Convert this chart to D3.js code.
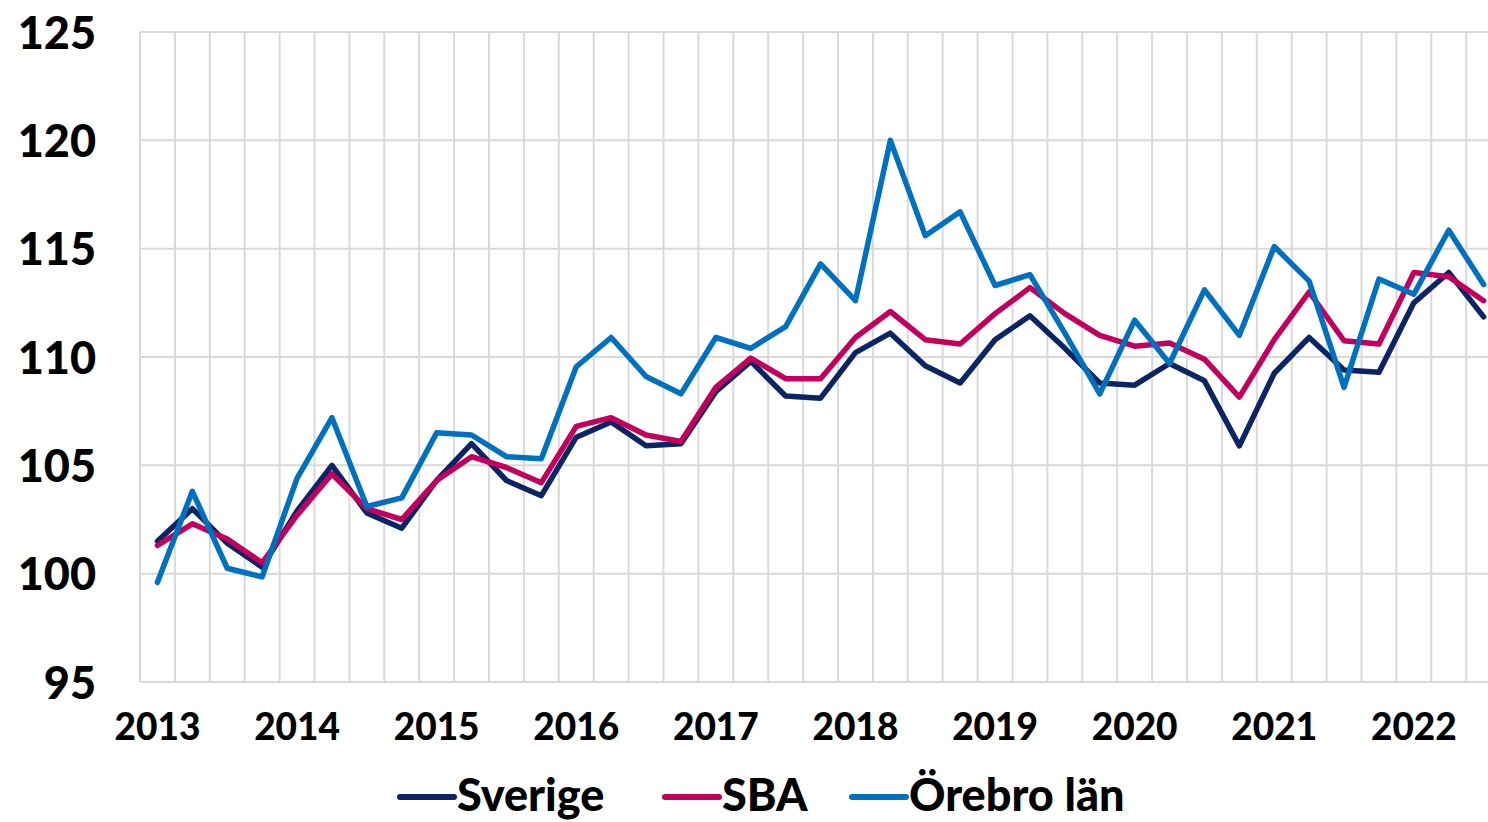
<!DOCTYPE html>
<html>
<head>
<meta charset="utf-8">
<script src="https://cdn.jsdelivr.net/npm/d3@7"></script>
<style>
  body { margin: 0; background: #fff; }
  svg { display: block; font-family: "Lato", "DejaVu Sans", sans-serif; }
</style>
</head>
<body>
<div class="chart"></div>
<script>
// quarterly index, 2013 Q1 .. 2022 Q3
const years = ["2013", "2014", "2015", "2016", "2017", "2018", "2019", "2020", "2021", "2022"]
const quarters = years.flatMap(y => ["1", "2", "3", "4"].map(q => y + "Q" + q)).slice(0, 39)

const sverige = [101.5, 103.0, 101.4, 100.3, 102.9, 105.0, 102.8, 102.1, 104.3, 106.0,
    104.3, 103.6, 106.3, 107.0, 105.9, 106.0, 108.4, 109.8, 108.2, 108.1,
    110.2, 111.1, 109.6, 108.8, 110.8, 111.9, 110.4, 108.8, 108.7, 109.7,
    108.9, 105.9, 109.25, 110.9, 109.4, 109.3, 112.5, 113.9, 111.85]
const sba = [101.3, 102.3, 101.6, 100.5, 102.7, 104.6, 103.0, 102.5, 104.3, 105.4,
    104.9, 104.2, 106.8, 107.2, 106.4, 106.1, 108.6, 109.95, 109.0, 109.0,
    110.9, 112.1, 110.8, 110.6, 112.0, 113.2, 112.0, 111.0, 110.5, 110.65,
    109.9, 108.15, 110.8, 113.0, 110.75, 110.6, 113.9, 113.7, 112.6]
const orebro = [99.6, 103.8, 100.25, 99.85, 104.4, 107.2, 103.1, 103.5, 106.5, 106.4,
    105.4, 105.3, 109.55, 110.9, 109.1, 108.3, 110.9, 110.4, 111.4, 114.3,
    112.6, 120.0, 115.6, 116.7, 113.3, 113.8, 111.1, 108.3, 111.7, 109.7,
    113.1, 111.0, 115.1, 113.5, 108.6, 113.6, 112.9, 115.85, 113.35]

const yTicks = [95, 100, 105, 110, 115, 120, 125]

const series = [
    { name: "Sverige", values: sverige, color: "#0b2466" },
    { name: "SBA", values: sba, color: "#c4005e" },
    { name: "Örebro län", values: orebro, color: "#0070c0" }
]

const W = 1488, H = 822
const margin = { top: 32, left: 140, bottom: 140 }
const plotRight = 140 + 39 * 34.9
const height = H - margin.top - margin.bottom

const svg = d3.select(".chart").append("svg")
    .attr("width", W)
    .attr("height", H)

const x = d3.scaleBand()
    .domain(quarters)
    .range([margin.left, plotRight])

const y = d3.scaleLinear()
    .domain([95, 125])
    .range([margin.top + height, margin.top])

// horizontal grid
svg.selectAll("line.hgrid")
    .data(yTicks)
    .enter().append("line")
    .attr("class", "hgrid")
    .attr("x1", margin.left)
    .attr("x2", plotRight)
    .attr("y1", d => y(d))
    .attr("y2", d => y(d))
    .style("stroke", "#d9d9d9")
    .style("stroke-width", 2)

// vertical grid at category boundaries
svg.selectAll("line.vgrid")
    .data(quarters)
    .enter().append("line")
    .attr("class", "vgrid")
    .attr("x1", d => x(d))
    .attr("x2", d => x(d))
    .attr("y1", y(125))
    .attr("y2", y(95))
    .style("stroke", "#d9d9d9")
    .style("stroke-width", 2)

// y axis labels
const yAxis = d3.axisLeft(y)
    .tickValues(yTicks)
    .tickSize(0)
    .tickPadding(0)

svg.append("g")
    .attr("transform", "translate(96,0)")
    .call(yAxis)
    .call(g => g.select(".domain").remove())
    .selectAll("text")
    .attr("dy", "0.36em")
    .style("font-family", "Lato, sans-serif")
    .style("font-size", "45px")
    .style("font-weight", 900)
    .style("fill", "#000")

// x axis: year labels under Q1
const xAxis = d3.axisBottom(x)
    .tickValues(quarters.filter(q => q.endsWith("Q1")))
    .tickFormat(d => d.slice(0, 4))
    .tickSize(0)
    .tickPadding(0)

svg.append("g")
    .attr("transform", `translate(0, ${y(95) + 32})`)
    .call(xAxis)
    .call(g => g.select(".domain").remove())
    .selectAll("text")
    .style("font-family", "Lato, sans-serif")
    .style("font-size", "37px")
    .style("font-weight", 900)
    .style("fill", "#000")

const line = d3.line()
    .x((d, i) => x(quarters[i]) + x.bandwidth() / 2)
    .y(d => y(d))

svg.selectAll("path.series")
    .data(series)
    .enter().append("path")
    .attr("class", "series")
    .attr("d", d => line(d.values))
    .style("fill", "none")
    .style("stroke", d => d.color)
    .style("stroke-width", 5.5)
    .style("stroke-linejoin", "round")
    .style("stroke-linecap", "round")

// legend
const legendX = [400, 665, 852]
const legend = svg.selectAll("g.legend")
    .data(series)
    .enter().append("g")
    .attr("class", "legend")
    .attr("transform", (d, i) => `translate(${legendX[i]}, 797)`)

legend.append("line")
    .attr("x1", 0)
    .attr("x2", 54)
    .style("stroke", d => d.color)
    .style("stroke-width", 6)
    .style("stroke-linecap", "round")

legend.append("text")
    .attr("x", 57)
    .attr("y", 14)
    .style("font-family", "Lato, sans-serif")
    .style("font-size", "45px")
    .style("font-weight", 900)
    .style("fill", "#000")
    .text(d => d.name)
</script>
</body>
</html>
